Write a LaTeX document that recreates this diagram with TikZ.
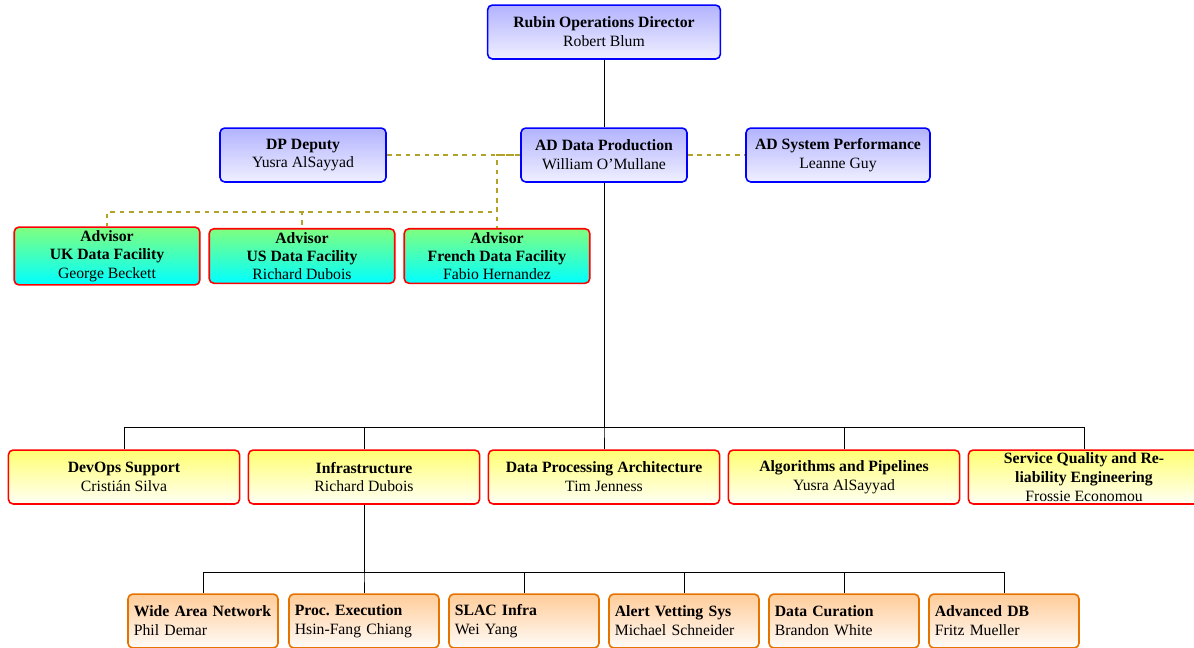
\documentclass[tikz,border=0pt]{standalone}
\usepackage{fontspec}
\setmainfont{Liberation Serif}
\definecolor{dotcol}{RGB}{178,162,40}

\tikzset{
  box/.style={rounded corners=3pt, line width=1pt, align=center, inner sep=1pt, minimum height=34.3pt},
  mgr/.style={box, draw=blue, top color=blue!30, bottom color=blue!6, minimum width=105.6pt},
  adv/.style={box, draw=red, top color=green!50, bottom color=cyan, minimum width=118pt,
    inner ysep=2.2pt, font=\linespread{0.97}\selectfont},
  dept/.style={box, draw=red, top color=yellow!55, bottom color=yellow!4, minimum width=147pt},
  grp/.style={box, draw=orange!90!black, top color=orange!40, bottom color=orange!3,
    text width=88pt, align=left, inner xsep=3.7pt},
  link/.style={draw=black, line width=0.4pt},
  dotlink/.style={draw=dotcol, dashed, line width=0.75pt},
}

\begin{document}
\begin{tikzpicture}[x=0.636pt, y=-0.636pt]
    \useasboundingbox (0,0) rectangle (1194,647);

    % management
    \node[mgr, minimum width=148pt] (top) at (604,32) {\textbf{Rubin Operations Director}\\Robert Blum};
    \node[mgr] (dep) at (303,155) {\textbf{DP Deputy}\\Yusra AlSayyad};
    \node[mgr] (adp) at (604,155) {\textbf{AD Data Production}\\William O'Mullane};
    \node[mgr, minimum width=117pt] (perf) at (838,155) {\textbf{AD System Performance}\\Leanne Guy};

    % advisors
    \node[adv] (advuk) at (107,256) {\textbf{Advisor}\\\textbf{UK Data Facility}\\George Beckett};
    \node[adv] (advus) at (302,256) {\textbf{Advisor}\\\textbf{US Data Facility}\\Richard Dubois};
    \node[adv] (advfr) at (497,256) {\textbf{Advisor}\\\textbf{French Data Facility}\\Fabio Hernandez};

    % departments
    \node[dept] (devops) at (124,477) {\textbf{DevOps Support}\\Cristián Silva};
    \node[dept] (infra) at (364,477) {\textbf{Infrastructure}\\Richard Dubois};
    \node[dept] (dpa) at (604,477) {\textbf{Data Processing Architecture}\\Tim Jenness};
    \node[dept] (algo) at (844,477) {\textbf{Algorithms and Pipelines}\\Yusra AlSayyad};
    \node[dept] (sqre) at (1084,477) {\textbf{Service Quality and Re-}\\\textbf{liability Engineering}\\Frossie Economou};

    % infrastructure groups
    \node[grp] (wan) at (203,621) {\mbox{\textbf{Wide Area Network}}\\Phil Demar};
    \node[grp] (proc) at (364,621) {\textbf{Proc.\ Execution}\\Hsin-Fang Chiang};
    \node[grp] (slac) at (524,621) {\textbf{SLAC Infra}\\Wei Yang};
    \node[grp] (alert) at (684,621) {\textbf{Alert Vetting Sys}\\Michael Schneider};
    \node[grp] (curation) at (844,621) {\textbf{Data Curation}\\Brandon White};
    \node[grp] (advdb) at (1004,621) {\textbf{Advanced DB}\\Fritz Mueller};

    \coordinate (busA) at (604,427);
    \coordinate (busB) at (364,572);
    \coordinate (advbus) at (497,212);

    \draw[link] (top) -- (adp);
    \foreach \n in {devops,infra,dpa,algo,sqre}
      \draw[link] (adp.south) |- (busA) -| (\n.north);
    \foreach \n in {wan,proc,slac,alert,curation,advdb}
      \draw[link] (infra.south) |- (busB) -| (\n.north);

    \draw[dotlink] (dep) -- (adp);
    \draw[dotlink] (adp) -- (perf);
    \foreach \n in {advuk,advus,advfr}
      \draw[dotlink] (adp.west) -| (advbus) -| (\n.north);
\end{tikzpicture}
\end{document}
